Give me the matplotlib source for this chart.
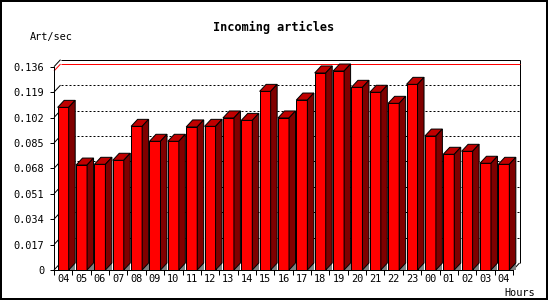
import numpy as np
import matplotlib
matplotlib.use('Agg')
import matplotlib.pyplot as plt
from matplotlib.patches import Polygon, Rectangle

plt.rcParams['lines.scale_dashes'] = False

# hourly rates
hours = ['04', '05', '06', '07', '08', '09', '10', '11', '12', '13', '14', '15', '16',
         '17', '18', '19', '20', '21', '22', '23', '00', '01', '02', '03', '04']
rate = [0.1088, 0.0702, 0.0707, 0.0734, 0.0961, 0.0861, 0.0861, 0.0957, 0.0961,
        0.1017, 0.1001, 0.1195, 0.1017, 0.1137, 0.1318, 0.1331, 0.1222, 0.1189,
        0.1115, 0.1242, 0.0896, 0.0774, 0.0794, 0.0714, 0.0707]
yticks = [0, 0.017, 0.034, 0.051, 0.068, 0.085, 0.102, 0.119, 0.136]
ytick_labels = ['0', '0.017', '0.034', '0.051', '0.068', '0.085', '0.102', '0.119', '0.136']

W, H = 550, 300
FONT = 'DejaVu Sans Mono'
RED, TOP, SIDE, SHADOW = '#ff0000', '#c00000', '#800000', '#808080'

fig = plt.figure(figsize=(W / 100, H / 100), dpi=100, facecolor='white')
ax_l, ax_b, ax_w, ax_h = 54, 30, 459, 203.3
ax = fig.add_axes([ax_l / W, ax_b / H, ax_w / W, ax_h / H])
ax.set_facecolor('none')

n = len(rate)
ymax = yticks[-1]
ax.set_xlim(-0.5, n - 0.5)
ax.set_ylim(0, ymax)

# 3d depth offset, converted from pixels to data units
dx = 6.5 * n / ax_w
dy = 7.0 * ymax / ax_h
bw = 0.6
lw = 0.72


def seg(xp, yp, **kw):
    kw.setdefault('color', 'black')
    ax.plot(xp, yp, lw=lw, clip_on=False, solid_capstyle='butt', **kw)


# back plane: dotted grid, frame and max line
x0, x1 = -0.5, n - 0.5
for v in yticks[1:-1]:
    seg([x0 + dx, x1 + dx], [v + dy, v + dy], dashes=(1.44, 1.44), zorder=1)
    seg([x0, x0 + dx], [v, v + dy], zorder=1)
seg([x0, x0 + dx], [ymax, ymax + dy], zorder=1)
seg([x0 + dx, x1 + dx], [ymax + dy, ymax + dy], zorder=1)
seg([x1 + dx, x1 + dx], [ymax + dy, dy], zorder=1)
seg([x1, x1 + dx], [0, dy], zorder=1)
seg([x0, x0 + dx], [0, dy], zorder=1)
vmax = max(rate)
seg([x0, x0 + dx], [vmax, vmax + dy], color=RED, zorder=1.5)
seg([x0 + dx, x1 + dx], [vmax + dy, vmax + dy], color=RED, zorder=1.5)

# bars with top and side faces
xs = np.arange(n)
ax.bar(xs, rate, width=bw, color=RED, edgecolor='black', lw=lw, zorder=3)
for x, v in zip(xs, rate):
    l, r = x - bw / 2, x + bw / 2
    ax.add_patch(Polygon([(l, v), (l + dx, v + dy), (r + dx, v + dy), (r, v)],
                         closed=True, fc=TOP, ec='black', lw=lw, clip_on=False, zorder=3))
    ax.add_patch(Polygon([(r, 0), (r, v), (r + dx, v + dy), (r + dx, dy)],
                         closed=True, fc=SIDE, ec='black', lw=lw, clip_on=False, zorder=3))
    ax.add_patch(Polygon([(r, 0), (r + dx, 0), (r + dx, dy)],
                         closed=True, fc=SHADOW, ec='none', clip_on=False, zorder=2))

# axes, ticks
for s in ['top', 'right']:
    ax.spines[s].set_visible(False)
for s in ['left', 'bottom']:
    ax.spines[s].set_linewidth(lw)
    ax.spines[s].set_zorder(4)

ax.set_yticks(yticks)
ax.set_yticklabels(ytick_labels, family=FONT, fontsize=7.4)
ax.tick_params(axis='y', length=3, width=lw, pad=4)

ax.set_xticks(np.arange(-0.5, n, 1.0))
ax.set_xticklabels([])
ax.tick_params(axis='x', which='major', length=3.5, width=lw)
ax.set_xticks(xs, minor=True)
ax.set_xticklabels(hours, minor=True, family=FONT, fontsize=7.4)
ax.tick_params(axis='x', which='minor', length=0, pad=3)

fig.text(273.5 / W, 1 - 27 / H, 'Incoming articles', family=FONT, weight='bold',
         fontsize=8.6, ha='center', va='center')
fig.text(30 / W, 1 - 36.7 / H, 'Art/sec', family=FONT, fontsize=7.4, ha='left', va='center')
fig.text(504 / W, 1 - 292.5 / H, 'Hours', family=FONT, fontsize=7.4, ha='left', va='center')

fig.patches.append(Rectangle((1 / W, 1 / H), 546 / W, 298 / H, fill=False, ec='black',
                             lw=1.44, transform=fig.transFigure, figure=fig))

fig.savefig('out.png', dpi=100)
